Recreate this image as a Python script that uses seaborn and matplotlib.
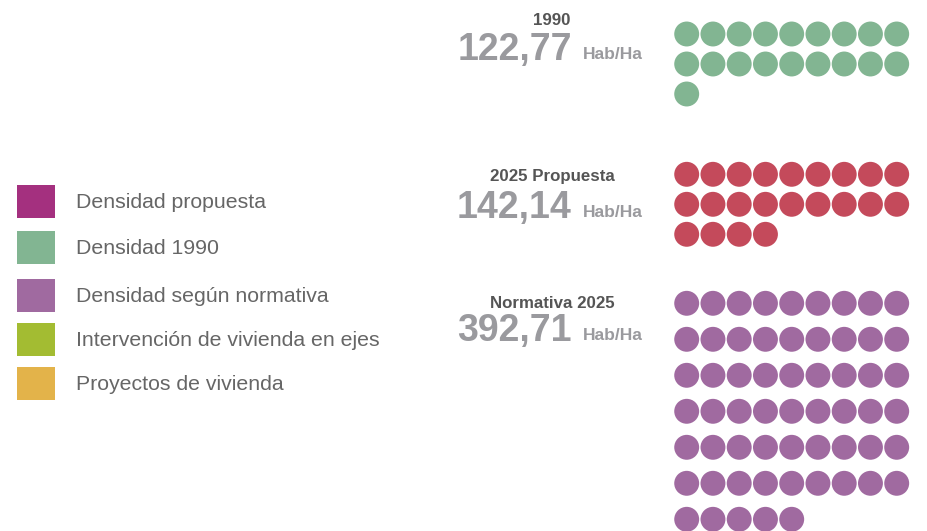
import numpy as np
import pandas as pd
import matplotlib
matplotlib.use("Agg")
import matplotlib.pyplot as plt
from matplotlib.patches import Rectangle
import seaborn as sns

# Density figures (inhabitants per hectare) and their dot counts
groups = ["1990", "2025 Propuesta", "Normativa 2025"]
densities = [122.77, 142.14, 392.71]
dot_counts = [19, 22, 59]
dot_colors = ["#82B592", "#C44A5B", "#A06AA0"]
unit = "Hab/Ha"

# Legend entries
legend_labels = ["Densidad propuesta", "Densidad 1990", "Densidad según normativa",
                 "Intervención de vivienda en ejes", "Proyectos de vivienda"]
legend_colors = ["#A4307F", "#82B592", "#A06AA0", "#A3BC32", "#E3B34A"]

sns.set_theme(style="white")
plt.rcParams["font.family"] = ["Liberation Sans", "DejaVu Sans"]

W, H = 928, 531
fig = plt.figure(figsize=(W / 100, H / 100), dpi=100)
ax = fig.add_axes([0, 0, 1, 1])

# Layout of each dot block (pixel units)
cols = 9
col_pitch = 26.25
block_x0 = 686.7
block_y0 = [34.0, 174.3, 303.3]
row_pitch = [30.0, 30.0, 36.0]
title_y = [20.7, 176.0, 303.3]
number_base = [60.0, 217.7, 341.0]

rows = []
for g, n, y0, rp in zip(groups, dot_counts, block_y0, row_pitch):
    for i in range(n):
        rows.append({"group": g,
                     "x": block_x0 + (i % cols) * col_pitch,
                     "y": y0 + (i // cols) * rp})
dots = pd.DataFrame(rows)

sns.scatterplot(data=dots, x="x", y="y", hue="group", hue_order=groups,
                palette=dict(zip(groups, dot_colors)), s=322, linewidth=0,
                legend=False, ax=ax)
ax.set_xlim(0, W)
ax.set_ylim(H, 0)
ax.axis("off")

for g, v, ty, nb in zip(groups, densities, title_y, number_base):
    ax.text(552, ty, g, ha="center", va="center", fontsize=12.2,
            fontweight="bold", color="#555555")
    ax.text(572, nb, f"{v:.2f}".replace(".", ","), ha="right", va="baseline",
            fontsize=27, fontweight="bold", color="#9A9A9E")
    ax.text(583, nb - 0.7, unit, ha="left", va="baseline", fontsize=12.5,
            fontweight="bold", color="#9A9A9E")

# Legend swatches and labels
legend_y = [201.5, 247.5, 295.3, 339.2, 383.0]
for lab, col, y in zip(legend_labels, legend_colors, legend_y):
    ax.add_patch(Rectangle((17, y - 16.5), 38, 33, facecolor=col, edgecolor="none"))
    ax.text(76, y + 1, lab, ha="left", va="center", fontsize=15.3, color="#666666")

fig.savefig("out.png", dpi=100)
